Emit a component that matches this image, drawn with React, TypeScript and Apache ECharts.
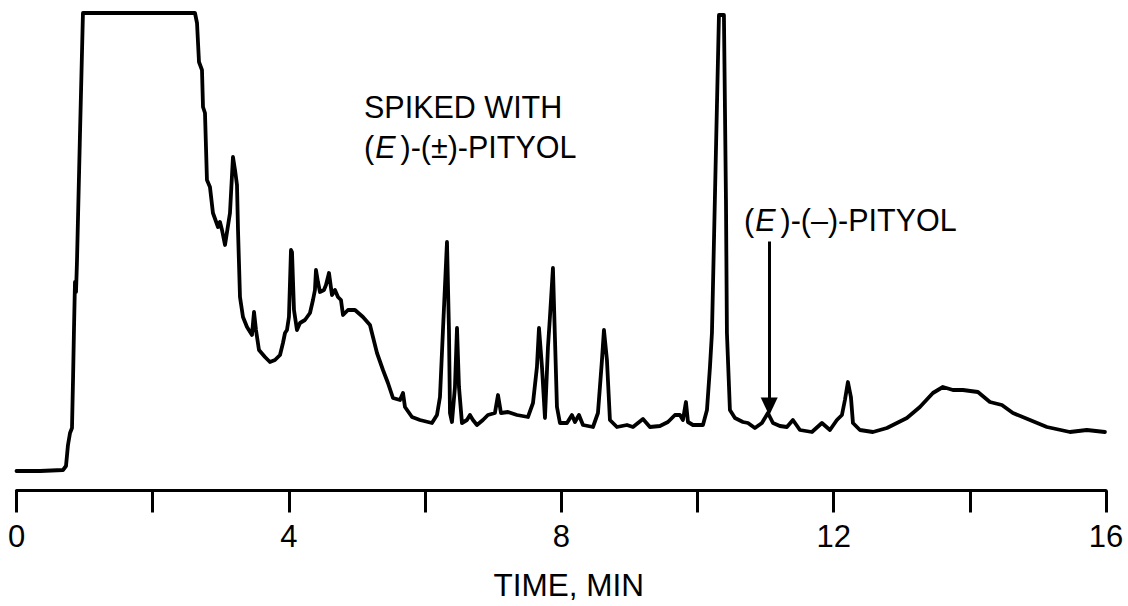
import React, { useEffect, useRef } from "react";
import * as echarts from "echarts";

// Gas chromatogram trace: [retention time (min), detector response (arbitrary units)]
const TRACE_POINTS: [number, number][] = [
  [0, 19.5], [0.345, 19.5], [0.683, 20.5], [0.727, 24.5], [0.756, 45.5], [0.786, 57.5],
  [0.815, 62.5], [0.83, 110.5], [0.844, 160.5], [0.859, 208.5], [0.874, 198.5], [0.888, 228.5],
  [0.932, 355.5], [0.976, 477.5], [1.814, 477.5], [2.621, 477.5],
  [2.651, 467.5], [2.68, 428.5], [2.724, 420.5], [2.739, 383.5], [2.768, 377.5], [2.797, 310.5],
  [2.841, 303.5], [2.885, 277.5], [2.959, 263.5], [2.988, 268.5], [3.018, 260.5], [3.062, 245.5],
  [3.135, 277.5], [3.179, 333.5], [3.209, 320.5], [3.238, 305.5], [3.253, 260.5], [3.282, 193.5],
  [3.326, 173.5], [3.385, 163.5], [3.458, 155.5], [3.488, 178.5], [3.517, 160.5], [3.561, 140.5],
  [3.649, 133.5], [3.722, 128.5], [3.796, 130.5], [3.87, 135.5], [3.913, 147.5], [3.943, 157.5],
  [3.972, 160.5], [4.001, 173.5], [4.031, 240.5], [4.046, 238.5], [4.075, 180.5], [4.119, 160.5],
  [4.163, 167.5], [4.236, 170.5], [4.31, 177.5], [4.354, 190.5], [4.383, 200.5], [4.398, 220.5],
  [4.427, 208.5], [4.457, 198.5], [4.515, 200.5], [4.545, 205.5], [4.589, 217.5], [4.633, 195.5],
  [4.677, 200.5], [4.721, 193.5], [4.765, 190.5], [4.795, 175.5], [4.868, 180.5], [4.971, 180.5],
  [5.088, 173.5], [5.191, 165.5], [5.235, 153.5], [5.294, 137.5], [5.382, 120.5], [5.455, 107.5],
  [5.529, 92.5], [5.632, 90.5], [5.676, 97.5], [5.705, 83.5], [5.808, 73.5], [5.925, 70.5],
  [6.101, 67.5], [6.175, 75.5], [6.219, 93.5], [6.263, 160.5], [6.322, 248.5], [6.351, 160.5],
  [6.366, 77.5], [6.395, 68.5], [6.439, 103.5], [6.469, 162.5], [6.498, 103.5], [6.542, 67.5],
  [6.615, 70.5], [6.659, 75.5], [6.703, 70.5], [6.762, 65.5], [6.85, 70.5], [6.923, 75.5],
  [7.026, 77.5], [7.071, 95.5], [7.115, 77.5], [7.218, 78.5], [7.35, 75.5], [7.511, 73.5],
  [7.585, 87.5], [7.643, 123.5], [7.673, 162.5], [7.717, 123.5], [7.761, 72.5], [7.805, 143.5],
  [7.834, 173.5], [7.878, 222.5], [7.907, 153.5], [7.937, 83.5], [7.981, 67.5], [8.084, 67.5],
  [8.157, 75.5], [8.201, 68.5], [8.26, 75.5], [8.319, 65.5], [8.466, 63.5], [8.539, 77.5],
  [8.598, 130.5], [8.627, 160.5], [8.671, 130.5], [8.715, 70.5], [8.818, 63.5], [8.965, 65.5],
  [9.053, 63.5], [9.2, 71.5], [9.302, 63.5], [9.449, 64.5], [9.567, 68.5], [9.67, 75.5],
  [9.743, 75.5], [9.787, 70.5], [9.831, 88.5], [9.861, 68.5], [9.934, 65.5], [10.081, 65.5],
  [10.14, 80.5], [10.184, 123.5], [10.213, 157.5], [10.272, 340.5], [10.316, 475.5], [10.389, 475.5],
  [10.419, 290.5], [10.433, 157.5], [10.477, 80.5], [10.551, 72.5], [10.668, 68.5], [10.742, 67.5],
  [10.844, 62.5], [10.947, 67.5], [11.035, 77.5], [11.109, 67.5], [11.211, 64.5], [11.314, 63.5],
  [11.402, 70.5], [11.505, 60.5], [11.681, 58.5], [11.828, 67.5], [11.946, 60.5], [12.048, 70.5],
  [12.122, 75.5], [12.166, 90.5], [12.21, 108.5], [12.254, 93.5], [12.284, 67.5], [12.386, 60.5],
  [12.577, 58.5], [12.783, 62.5], [13.076, 72.5], [13.267, 83.5], [13.458, 97.5], [13.605, 103.5],
  [13.752, 100.5], [13.899, 100.5], [14.119, 98.5], [14.295, 88.5], [14.471, 85.5], [14.633, 77.5],
  [14.883, 70.5], [15.132, 63.5], [15.47, 58.5], [15.719, 60.5], [15.984, 58.5],
];

const LABELED_TICKS = [0, 4, 8, 12, 16];
const X_AXIS_NAME = "TIME, MIN";
const SPIKE_LABEL_LINE1 = "SPIKED WITH";
const SPIKE_LABEL_LINE2 = "({i|E})-(±)-PITYOL";
const TARGET_LABEL = "({i|E})-(–)-PITYOL";
// arrow pointing at the (E)-(-)-pityol peak: [time, from response, to response (tip)]
const TARGET_ARROW: [number, number, number] = [11.054, 249, 84];

const FONT = "'Liberation Sans', Arial, Helvetica, sans-serif";
const NOTE_SIZE = 30.5;

export default function App() {
  const ref = useRef<HTMLDivElement>(null);

  useEffect(() => {
    if (!ref.current) return;
    const chart = echarts.init(ref.current, undefined, { renderer: "svg" });
    const rich = {
      i: { fontStyle: "italic", fontSize: NOTE_SIZE, fontFamily: FONT, color: "#000", padding: [0, 5, 0, 1] },
    };
    chart.setOption({
      animation: false,
      backgroundColor: "#ffffff",
      grid: { left: 16.5, right: 22, top: 10.5, bottom: 115.5, containLabel: false },
      xAxis: {
        type: "value",
        min: 0,
        max: 16,
        interval: 2,
        splitLine: { show: false },
        axisLine: { show: true, lineStyle: { color: "#000", width: 3 } },
        axisTick: { show: true, inside: false, length: 22, lineStyle: { color: "#000", width: 3 } },
        axisLabel: {
          show: true,
          margin: 30,
          fontSize: 31,
          fontFamily: FONT,
          color: "#000",
          showMinLabel: true,
          showMaxLabel: true,
          formatter: (v: number) => (LABELED_TICKS.includes(v) ? String(v) : ""),
        },
        name: X_AXIS_NAME,
        nameLocation: "middle",
        nameGap: 78,
        nameTextStyle: { fontSize: 31.5, fontFamily: FONT, color: "#000", padding: [0, 0, 0, 15] },
      },
      yAxis: {
        type: "value",
        min: 0,
        max: 480,
        show: false,
        splitLine: { show: false },
      },
      series: [
        {
          type: "line",
          data: TRACE_POINTS,
          showSymbol: false,
          symbol: "none",
          smooth: false,
          clip: true,
          lineStyle: { color: "#000", width: 3.8, join: "round", cap: "round" },
          markLine: {
            silent: true,
            symbol: ["none", "triangle"],
            symbolSize: [17, 18],
            label: { show: false },
            lineStyle: { color: "#000", width: 3, type: "solid" },
            data: [
              [
                { coord: [TARGET_ARROW[0], TARGET_ARROW[1]] },
                { coord: [TARGET_ARROW[0], TARGET_ARROW[2]] },
              ],
            ],
          },
        },
      ],
      graphic: [
        {
          type: "text",
          left: 364,
          top: 91,
          style: { text: SPIKE_LABEL_LINE1, fontSize: NOTE_SIZE, fontFamily: FONT, fill: "#000" },
        },
        {
          type: "text",
          left: 364,
          top: 131,
          style: { text: SPIKE_LABEL_LINE2, fontSize: NOTE_SIZE, fontFamily: FONT, fill: "#000", rich },
        },
        {
          type: "text",
          left: 744,
          top: 204,
          style: { text: TARGET_LABEL, fontSize: NOTE_SIZE, fontFamily: FONT, fill: "#000", rich },
        },
      ],
    });
    return () => chart.dispose();
  }, []);

  return (
    <div
      ref={ref}
      style={{ position: "absolute", left: 0, top: 0, width: 1128, height: 606, background: "#fff" }}
    />
  );
}
